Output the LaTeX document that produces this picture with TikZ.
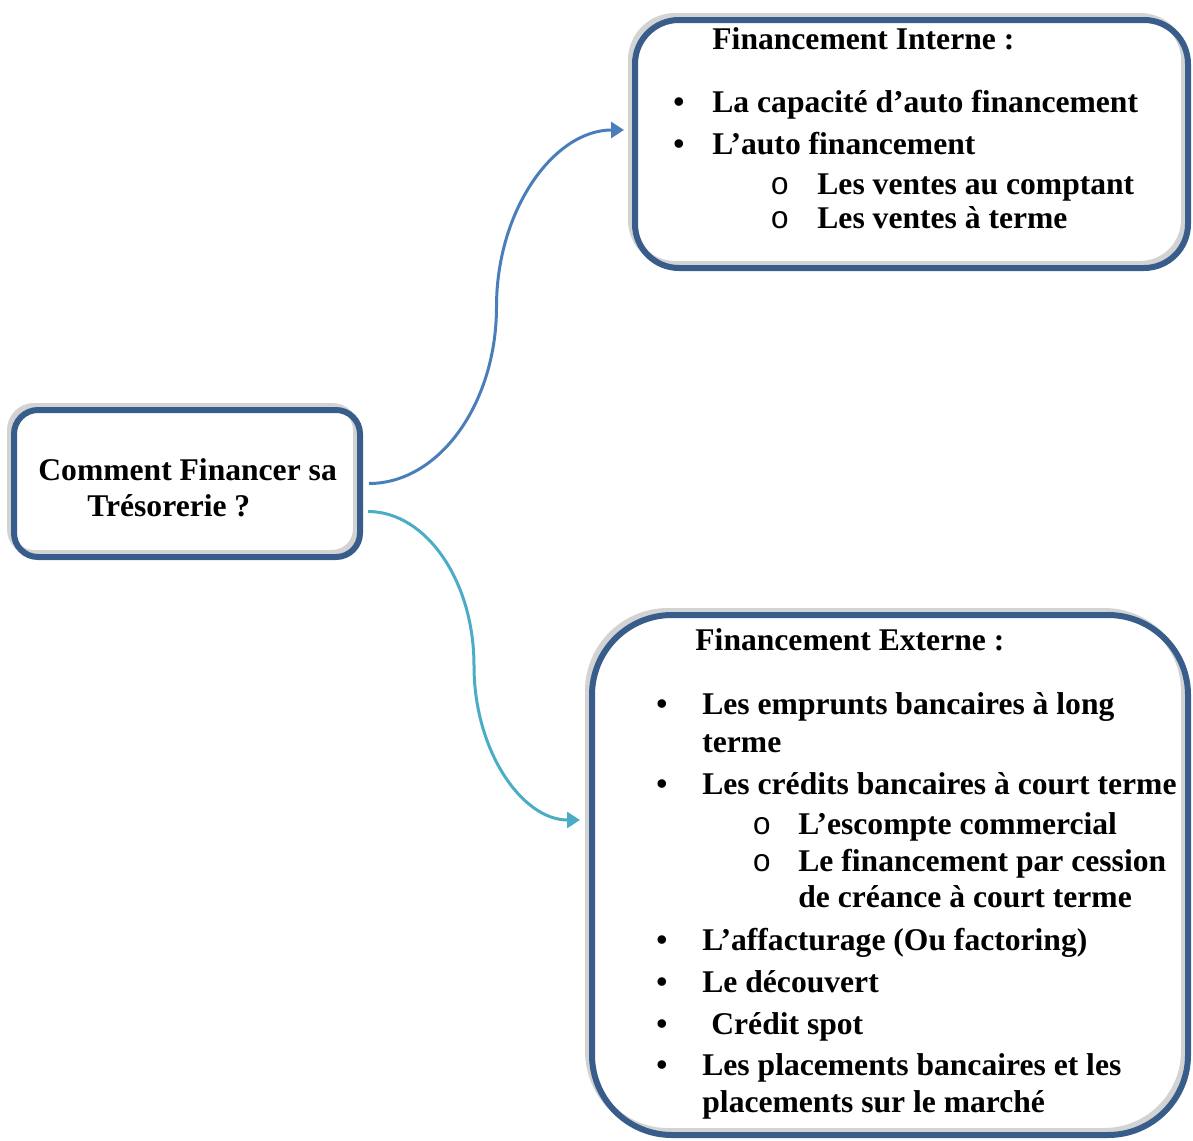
\documentclass[tikz,border=0pt]{standalone}
\usepackage{fontspec}
\setmainfont{Liberation Serif}
\newfontfamily\circfont{Liberation Mono}
\usetikzlibrary{arrows.meta,calc}
\definecolor{boxblue}{HTML}{385D8A}
\definecolor{shadowgray}{HTML}{D3D3D3}
\definecolor{arrowblue}{HTML}{4A7EBB}
\definecolor{arrowteal}{HTML}{4BACC6}
\tikzset{ombre/.style={preaction={draw=shadowgray,line width=3pt,transform canvas={shift={(-2pt,2pt)}}}}}
\newcommand{\puce}[1]{\makebox[#1][l]{\textbullet}}
\newcommand{\rond}[1]{\makebox[#1][l]{\circfont\mdseries o}}

\begin{document}
\begin{tikzpicture}[x=0.5pt,y=-0.5pt,
  boite/.style={draw=boxblue,line width=3pt,ombre,inner sep=0pt},
  ligne/.style={inner sep=0pt,anchor=base west,font=\bfseries\fontsize{15.8}{19}\selectfont},
  lien/.style={line width=1.5pt,-{Triangle[length=6.5pt,width=8pt]}}]
\useasboundingbox (0,0) rectangle (1193,1140);
% les trois boites
\node (tres) [boite,rounded corners=12pt,minimum width=173pt,minimum height=73.5pt] at (187,483.5) {};
\node (interne) [boite,rounded corners=22pt,minimum width=276.5pt,minimum height=124pt] at (911.5,144) {};
\node (externe) [boite,rounded corners=40pt,minimum width=298pt,minimum height=260pt] at (890,875) {};
%
\node (t1) [ligne] at (38,480) {Comment Financer sa};
\node (t2) [ligne] at (87,516) {Trésorerie ?};
%
\node (i0) [ligne] at (712,49) {Financement Interne :};
\node (i1) [ligne] at (673,112) {\puce{19.5pt}La capacité d’auto financement};
\node (i2) [ligne] at (673,154) {\puce{19.5pt}L’auto financement};
\node (i3) [ligne] at (770,194) {\rond{23.5pt}Les ventes au comptant};
\node (i4) [ligne] at (770,228) {\rond{23.5pt}Les ventes à terme};
%
\node (e0) [ligne] at (695,650) {Financement Externe :};
\node (e1) [ligne] at (656,714) {\puce{23pt}Les emprunts bancaires à long};
\node (e2) [ligne] at (702,752) {terme};
\node (e3) [ligne] at (656,794) {\puce{23pt}Les crédits bancaires à court terme};
\node (e4) [ligne] at (752,834) {\rond{23pt}L’escompte commercial};
\node (e5) [ligne] at (752,871) {\rond{23pt}Le financement par cession};
\node (e6) [ligne] at (798,907) {de créance à court terme};
\node (e7) [ligne] at (656,950) {\puce{23pt}L’affacturage (Ou factoring)};
\node (e8) [ligne] at (656,992) {\puce{23pt}Le découvert};
\node (e9) [ligne] at (656,1034) {\puce{23pt}\hspace{4.5pt}Crédit spot};
\node (e10) [ligne] at (656,1075) {\puce{23pt}Les placements bancaires et les};
\node (e11) [ligne] at (702,1112) {placements sur le marché};
%
\coordinate (d1) at ([xshift=3pt]tres.east);
\coordinate (a1) at ([xshift=-4pt,yshift=7pt]interne.west);
\coordinate (m1) at ($(d1)!.5!(a1)$);
\coordinate (d2) at ([xshift=2.5pt,yshift=-14pt]tres.east);
\coordinate (a2) at ([xshift=-4.5pt,yshift=27.5pt]externe.west);
\coordinate (m2) at ($(d2)!.5!(a2)$);
\draw[lien,color=arrowblue] (d1) .. controls +(70,0) and +(0,97) .. (m1) .. controls +(0,-97) and +(-70,0) .. (a1);
\draw[lien,color=arrowteal] (d2) .. controls +(58,0) and +(0,-85) .. (m2) .. controls +(0,85) and +(-58,0) .. (a2);
\end{tikzpicture}
\end{document}
